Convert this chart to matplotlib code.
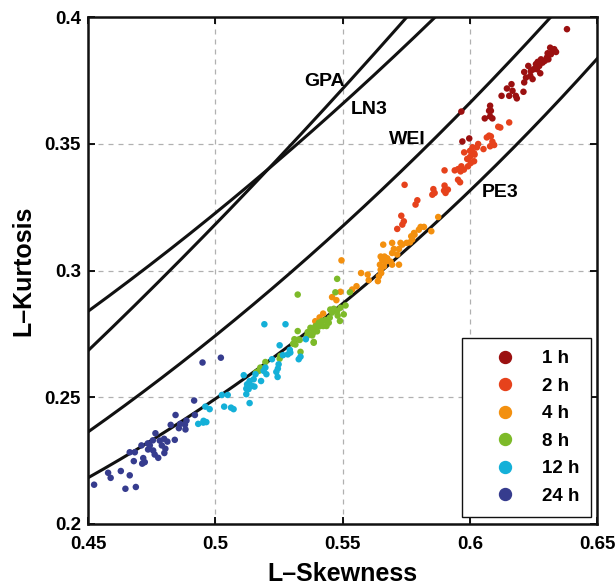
import matplotlib
matplotlib.use('Agg')
import matplotlib.pyplot as plt
import numpy as np
from matplotlib.lines import Line2D

plt.rcParams['font.family'] = ['Liberation Sans', 'DejaVu Sans']
plt.rcParams['font.weight'] = 'bold'

# ---- theoretical L-moment ratio curves (Hosking polynomial approximations) ----
gev_coef = [0.10701, 0.11090, 0.84838, -0.06669, 0.00567, -0.04208, 0.03763]  # WEI uses -tau3
ln3_coef = [0.12282, 0.0, 0.77518, 0.0, 0.12279, 0.0, -0.13638, 0.0, 0.11368]
pe3_coef = [0.1224, 0.0, 0.30115, 0.0, 0.95812, 0.0, -0.57488, 0.0, 0.19383]
curve_names = ['GPA', 'LN3', 'WEI', 'PE3']
label_x = [0.543, 0.5605, 0.5755, 0.612]
label_y = [0.3746, 0.3635, 0.3517, 0.3308]

# ---- observed L-moment ratios per duration ----
durations = ['1 h', '2 h', '4 h', '8 h', '12 h', '24 h']
colors = ['#9b1010', '#e6421c', '#f3900f', '#7dba29', '#14b0d8', '#363c8e']

skew_1h = [0.6382, 0.5967, 0.5971, 0.5998, 0.6059, 0.6080, 0.6089, 0.6083, 0.6080, 0.6076,
           0.6125, 0.6146, 0.6164, 0.6168, 0.6155, 0.6181, 0.6185, 0.6211, 0.6214, 0.6221,
           0.6214, 0.6230, 0.6240, 0.6251, 0.6238, 0.6247, 0.6260, 0.6267, 0.6280, 0.6273,
           0.6286, 0.6295, 0.6277, 0.6264, 0.6306, 0.6309, 0.6319, 0.6303, 0.6316, 0.6332,
           0.6339, 0.6326]
kurt_1h = [0.3952, 0.3627, 0.3509, 0.3521, 0.3600, 0.3608, 0.3600, 0.3630, 0.3650, 0.3630,
           0.3689, 0.3718, 0.3735, 0.3709, 0.3689, 0.3689, 0.3679, 0.3705, 0.3742, 0.3761,
           0.3783, 0.3807, 0.3787, 0.3794, 0.3768, 0.3755, 0.3814, 0.3823, 0.3833, 0.3807,
           0.3820, 0.3827, 0.3778, 0.3794, 0.3857, 0.3833, 0.3853, 0.3840, 0.3879, 0.3873,
           0.3862, 0.3866]

skew_2h = [0.5744, 0.5731, 0.5741, 0.5735, 0.5715, 0.5794, 0.5787, 0.5857, 0.5862, 0.5853,
           0.5901, 0.5899, 0.5914, 0.5905, 0.5901, 0.5941, 0.5954, 0.5967, 0.5977, 0.5964,
           0.5954, 0.5962, 0.5993, 0.6004, 0.6017, 0.6001, 0.6019, 0.6006, 0.5990, 0.5978,
           0.6001, 0.6017, 0.6011, 0.6028, 0.6033, 0.6054, 0.6067, 0.6076, 0.6083, 0.6089,
           0.6096, 0.6080, 0.6112, 0.6120, 0.6155]
kurt_2h = [0.3338, 0.3216, 0.3194, 0.3181, 0.3164, 0.3277, 0.3260, 0.3321, 0.3306, 0.3299,
           0.3335, 0.3315, 0.3319, 0.3306, 0.3395, 0.3395, 0.3400, 0.3411, 0.3398, 0.3391,
           0.3358, 0.3348, 0.3411, 0.3424, 0.3431, 0.3448, 0.3457, 0.3474, 0.3440, 0.3466,
           0.3472, 0.3463, 0.3486, 0.3486, 0.3499, 0.3479, 0.3525, 0.3532, 0.3529, 0.3508,
           0.3495, 0.3490, 0.3567, 0.3564, 0.3584]

skew_4h = [0.5496, 0.5573, 0.5599, 0.5603, 0.5639, 0.5643, 0.5652, 0.5492, 0.5459, 0.5476,
           0.5538, 0.5555, 0.5424, 0.5393, 0.5410, 0.5660, 0.5695, 0.5702, 0.5728, 0.5722,
           0.5695, 0.5715, 0.5650, 0.5665, 0.5676, 0.5656, 0.5669, 0.5647, 0.5663, 0.5650,
           0.5689, 0.5695, 0.5722, 0.5765, 0.5774, 0.5783, 0.5770, 0.5752, 0.5876, 0.5849,
           0.5807, 0.5820, 0.5800, 0.5781, 0.5735]
kurt_4h = [0.3040, 0.2990, 0.2984, 0.2962, 0.2958, 0.2977, 0.2990, 0.2916, 0.2895, 0.2883,
           0.2925, 0.2938, 0.2830, 0.2800, 0.2815, 0.3102, 0.3109, 0.3085, 0.3109, 0.3085,
           0.3069, 0.3063, 0.3055, 0.3055, 0.3048, 0.3042, 0.3035, 0.3023, 0.3016, 0.3003,
           0.3035, 0.3023, 0.3023, 0.3111, 0.3122, 0.3141, 0.3135, 0.3109, 0.3211, 0.3155,
           0.3172, 0.3172, 0.3161, 0.3148, 0.3102]

skew_8h = [0.5177, 0.5197, 0.5171, 0.5160, 0.5256, 0.5253, 0.5306, 0.5311, 0.5332, 0.5324,
           0.5387, 0.5335, 0.5363, 0.5374, 0.5385, 0.5394, 0.5381, 0.5361, 0.5407, 0.5420,
           0.5433, 0.5446, 0.5437, 0.5424, 0.5450, 0.5459, 0.5479, 0.5492, 0.5490, 0.5505,
           0.5479, 0.5324, 0.5472, 0.5529, 0.5512, 0.5452, 0.5466, 0.5481, 0.5389, 0.5400,
           0.5410, 0.5328, 0.5315, 0.5387]
kurt_8h = [0.2617, 0.2639, 0.2604, 0.2598, 0.2663, 0.2652, 0.2711, 0.2729, 0.2726, 0.2761,
           0.2718, 0.2679, 0.2757, 0.2774, 0.2755, 0.2781, 0.2744, 0.2742, 0.2794, 0.2801,
           0.2805, 0.2794, 0.2781, 0.2781, 0.2814, 0.2834, 0.2840, 0.2853, 0.2801, 0.2827,
           0.2967, 0.2905, 0.2914, 0.2914, 0.2862, 0.2846, 0.2849, 0.2822, 0.2766, 0.2760,
           0.2780, 0.2728, 0.2708, 0.2715]

skew_12h = [0.5193, 0.5276, 0.5253, 0.5356, 0.5293, 0.5285, 0.5266, 0.5295, 0.5223, 0.5335,
            0.5328, 0.5249, 0.5246, 0.5240, 0.5245, 0.5197, 0.5190, 0.5201, 0.5180, 0.5158,
            0.5151, 0.5112, 0.5135, 0.5125, 0.5144, 0.5122, 0.5131, 0.5154, 0.5026, 0.5049,
            0.5122, 0.5135, 0.5035, 0.5062, 0.5072, 0.4961, 0.4978, 0.4954, 0.4933, 0.4953,
            0.4965]
kurt_12h = [0.2788, 0.2788, 0.2705, 0.2729, 0.2687, 0.2669, 0.2666, 0.2676, 0.2650, 0.2660,
            0.2650, 0.2630, 0.2613, 0.2600, 0.2580, 0.2617, 0.2604, 0.2591, 0.2564, 0.2591,
            0.2571, 0.2587, 0.2564, 0.2551, 0.2545, 0.2534, 0.2532, 0.2542, 0.2509, 0.2509,
            0.2512, 0.2477, 0.2463, 0.2459, 0.2453, 0.2463, 0.2453, 0.2407, 0.2395, 0.2400,
            0.2402]

skew_24h = [0.4950, 0.5022, 0.4917, 0.4844, 0.4920, 0.4825, 0.4887, 0.4881, 0.4857, 0.4883,
            0.4765, 0.4841, 0.4799, 0.4812, 0.4782, 0.4710, 0.4743, 0.4736, 0.4756, 0.4804,
            0.4762, 0.4776, 0.4664, 0.4684, 0.4680, 0.4717, 0.4723, 0.4713, 0.4579, 0.4589,
            0.4629, 0.4664, 0.4524, 0.4647, 0.4688, 0.4735, 0.4755, 0.4790, 0.4800, 0.4862]
kurt_24h = [0.2637, 0.2656, 0.2487, 0.2430, 0.2430, 0.2391, 0.2408, 0.2392, 0.2378, 0.2373,
            0.2358, 0.2332, 0.2336, 0.2325, 0.2329, 0.2310, 0.2310, 0.2294, 0.2290, 0.2297,
            0.2274, 0.2261, 0.2283, 0.2283, 0.2248, 0.2260, 0.2244, 0.2238, 0.2202, 0.2182,
            0.2209, 0.2192, 0.2155, 0.2139, 0.2146, 0.2318, 0.2330, 0.2310, 0.2280, 0.2395]

skews = [skew_1h, skew_2h, skew_4h, skew_8h, skew_12h, skew_24h]
kurts = [kurt_1h, kurt_2h, kurt_4h, kurt_8h, kurt_12h, kurt_24h]

xticks = [0.45, 0.5, 0.55, 0.6, 0.65]
xticklabels = ['0.45', '0.5', '0.55', '0.6', '0.65']
yticks = [0.2, 0.25, 0.3, 0.35, 0.4]
yticklabels = ['0.2', '0.25', '0.3', '0.35', '0.4']


def poly(c, t):
    return sum(ci * t ** i for i, ci in enumerate(c))


fig = plt.figure(figsize=(6.15, 5.88), dpi=100)
ax = fig.add_axes([88 / 615, 1 - 524 / 588, (597 - 88) / 615, (524 - 17) / 588])

t3 = np.linspace(0.45, 0.65, 500)
curves = {
    'GPA': t3 * (1 + 5 * t3) / (5 + t3),
    'LN3': poly(ln3_coef, t3),
    'WEI': poly(gev_coef, -t3),
    'PE3': poly(pe3_coef, t3),
}
for name in curve_names:
    ax.plot(t3, curves[name], color='#111111', lw=2.2, zorder=3)
for name, lx, ly in zip(curve_names, label_x, label_y):
    ax.text(lx, ly, name, fontsize=14, fontweight='bold', ha='center', va='center', zorder=4)

handles = []
for sx, ky, c, lab in zip(skews, kurts, colors, durations):
    ax.scatter(sx, ky, s=22, color=c, edgecolors='none', zorder=5)
    handles.append(Line2D([], [], marker='o', ls='none', color=c, markersize=8.6, label=lab))

ax.set_xlim(0.45, 0.65)
ax.set_ylim(0.2, 0.4)
ax.set_xticks(xticks)
ax.set_xticklabels(xticklabels)
ax.set_yticks(yticks)
ax.set_yticklabels(yticklabels)
ax.tick_params(direction='in', length=5, width=1.3, top=True, right=True,
               labelsize=13.5)
ax.tick_params(axis='x', pad=8.5)
ax.tick_params(axis='y', pad=5)
for lab in ax.get_xticklabels() + ax.get_yticklabels():
    lab.set_fontweight('bold')
ax.grid(True, color='#b0b0b0', linestyle=(0, (4, 4)), lw=0.9)
for sp in ax.spines.values():
    sp.set_linewidth(1.8)
    sp.set_color('#111111')

ax.set_xlabel('L\u2013Skewness', fontsize=18, fontweight='bold', labelpad=6.5)
ax.set_ylabel('L\u2013Kurtosis', fontsize=18, fontweight='bold', labelpad=7)

leg = ax.legend(handles=handles, loc='lower right', bbox_to_anchor=(0.988, 0.0138),
                borderaxespad=0, fontsize=13.5, frameon=True, fancybox=False,
                edgecolor='#111111', framealpha=1, labelspacing=0.556,
                handlelength=3.3, handletextpad=0.3, borderpad=0.64)
leg.get_frame().set_linewidth(1.0)
for t in leg.get_texts():
    t.set_fontweight('bold')

fig.savefig('out.png', dpi=100)
